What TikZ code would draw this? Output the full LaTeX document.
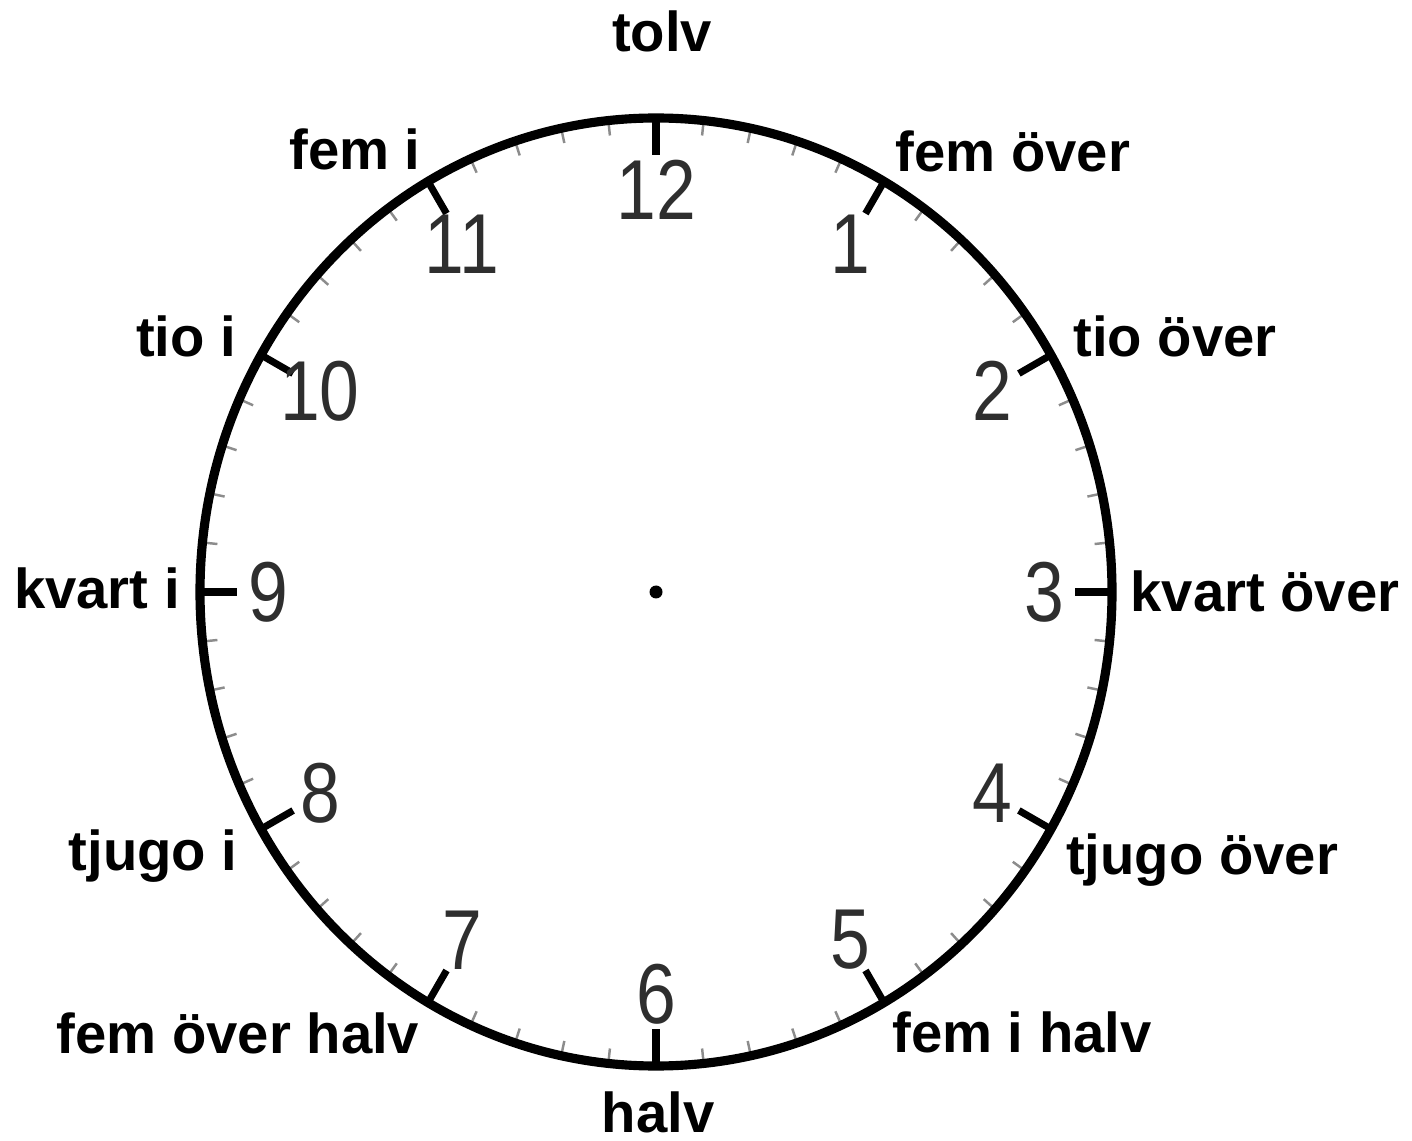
\documentclass[tikz,border=0pt]{standalone}
\usepackage{fontspec}
\setmainfont{Liberation Sans}
\usetikzlibrary{calc}

\begin{document}
\begin{tikzpicture}[
    etikett/.style={font=\bfseries\fontsize{16}{18}\selectfont, anchor=base, inner sep=0pt},
    siffra/.style={font=\fontsize{24.2}{26}\selectfont, text=black!82, inner sep=0pt},
    urtavla/.style={line width=2.6pt},
    timstreck/.style={line width=2pt},
    minutstreck/.style={line width=0.7pt, black!45}
]
\useasboundingbox (0,0) rectangle (14.12,-11.41);
\coordinate (mitt) at (6.56,-5.92);

% minutstreck
\foreach \m in {0,...,59}{
  \pgfmathsetmacro\vinkel{90-6*\m}
  \draw[minutstreck] ($(mitt)+({4.56*cos(\vinkel)},{4.74*sin(\vinkel)})$)
    -- ($(mitt)+({4.41*cos(\vinkel)},{4.59*sin(\vinkel)})$);
}

\draw[urtavla] (mitt) ellipse [x radius=4.56, y radius=4.74];
\fill (mitt) circle (0.065);

% timstreck och siffror
\foreach \h in {1,...,12}{
  \pgfmathsetmacro\vinkel{90-30*\h}
  \draw[timstreck] ($(mitt)+({4.56*cos(\vinkel)},{4.74*sin(\vinkel)})$)
    -- ($(mitt)+({4.19*cos(\vinkel)},{4.37*sin(\vinkel)})$);
  \node[siffra] (siffra\h) at ($(mitt)+({3.88*cos(\vinkel)},{4.02*sin(\vinkel)})$)
    {\scalebox{0.84}[1]{\h}};
}

\node[etikett] (tolv)       at (6.62,-0.52)   {tolv};
\node[etikett] (femover)    at (10.13,-1.72)  {fem över};
\node[etikett] (femi)       at (3.55,-1.70)   {fem i};
\node[etikett] (tioover)    at (11.75,-3.57)  {tio över};
\node[etikett] (tioi)       at (1.86,-3.57)   {tio i};
\node[etikett] (kvartover)  at (12.65,-6.12)  {kvart över};
\node[etikett] (kvarti)     at (0.97,-6.08)   {kvart i};
\node[etikett] (tjugoover)  at (12.02,-8.74)  {tjugo över};
\node[etikett] (tjugoi)     at (1.53,-8.70)   {tjugo i};
\node[etikett] (femihalv)   at (10.22,-10.52) {fem i halv};
\node[etikett] (femoverhalv) at (2.38,-10.53) {fem över halv};
\node[etikett] (halv)       at (6.58,-11.32)  {halv};

\end{tikzpicture}
\end{document}
